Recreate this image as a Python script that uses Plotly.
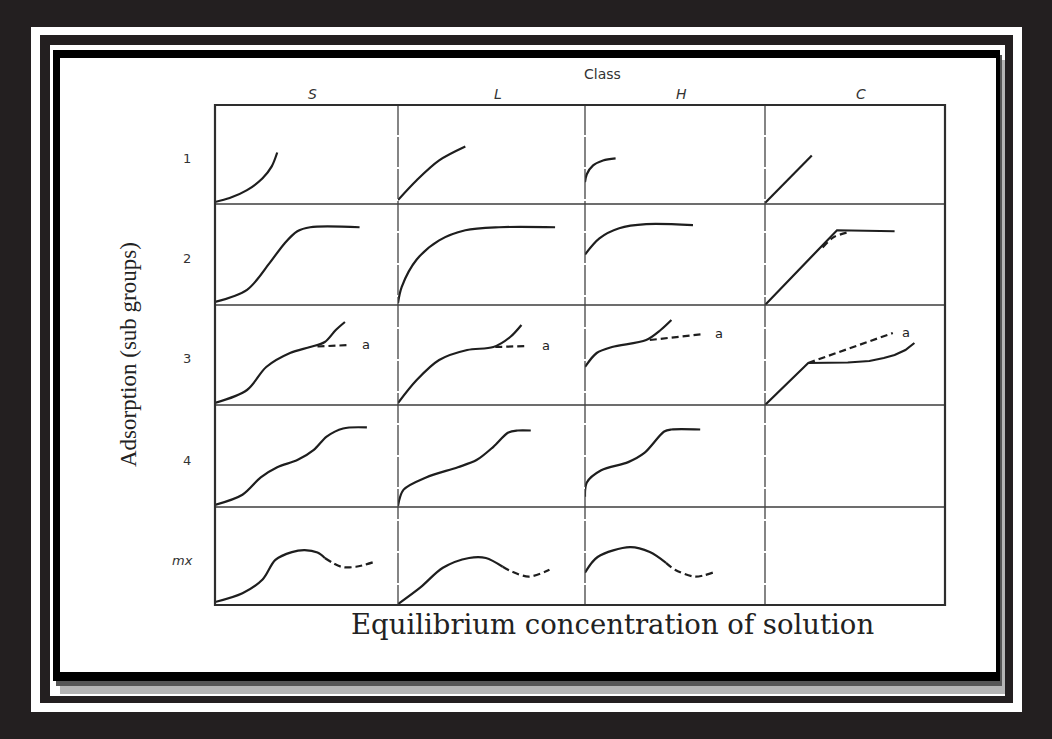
import plotly.graph_objects as go

W, H = 1052, 739

# ---------------- data (cell-local coordinates, 0..1) ----------------
classes = ["S", "L", "H", "C"]
subgroups = ["1", "2", "3", "4", "mx"]

# Row 1
S1_x = [0.0, 0.08, 0.175, 0.26, 0.31, 0.34]
S1_y = [0.02, 0.06, 0.14, 0.26, 0.38, 0.52]
L1_x = [0.0, 0.10, 0.22, 0.36]
L1_y = [0.04, 0.24, 0.44, 0.58]
H1_x = [0.0, 0.01, 0.045, 0.10, 0.17]
H1_y = [0.22, 0.30, 0.39, 0.44, 0.46]
C1_x = [0.0, 0.26]
C1_y = [0.01, 0.49]

# Row 2
S2_x = [0.0, 0.175, 0.30, 0.38, 0.45, 0.52, 0.79]
S2_y = [0.03, 0.15, 0.42, 0.61, 0.73, 0.77, 0.77]
L2_x = [0.0, 0.02, 0.10, 0.22, 0.36, 0.54, 0.84]
L2_y = [0.02, 0.18, 0.45, 0.64, 0.74, 0.77, 0.77]
H2_x = [0.0, 0.08, 0.19, 0.34, 0.60]
H2_y = [0.50, 0.66, 0.76, 0.80, 0.79]
C2_x = [0.0, 0.40, 0.72]
C2_y = [0.0, 0.74, 0.73]
C2a_x = [0.32, 0.38, 0.46]
C2a_y = [0.57, 0.67, 0.72]

# Row 3
S3_x = [0.0, 0.175, 0.28, 0.41, 0.52, 0.60, 0.66, 0.71]
S3_y = [0.02, 0.15, 0.38, 0.52, 0.58, 0.63, 0.75, 0.83]
S3a_x = [0.56, 0.74]
S3a_y = [0.585, 0.60]
L3_x = [0.0, 0.10, 0.22, 0.37, 0.51, 0.60, 0.66]
L3_y = [0.02, 0.25, 0.45, 0.55, 0.58, 0.68, 0.80]
L3a_x = [0.52, 0.69]
L3a_y = [0.58, 0.59]
H3_x = [0.0, 0.065, 0.15, 0.34, 0.42, 0.48]
H3_y = [0.38, 0.52, 0.58, 0.65, 0.75, 0.85]
H3a_x = [0.36, 0.66]
H3a_y = [0.65, 0.71]
C3_x = [0.0, 0.24, 0.46, 0.58, 0.66, 0.72, 0.78, 0.83]
C3_y = [0.0, 0.42, 0.425, 0.44, 0.47, 0.50, 0.55, 0.62]
C3a_x = [0.24, 0.71]
C3a_y = [0.42, 0.72]

# Row 4
S4_x = [0.0, 0.15, 0.25, 0.34, 0.45, 0.54, 0.61, 0.70, 0.83]
S4_y = [0.02, 0.12, 0.29, 0.39, 0.46, 0.56, 0.69, 0.77, 0.78]
L4_x = [0.0, 0.03, 0.15, 0.32, 0.42, 0.51, 0.59, 0.64, 0.71]
L4_y = [0.01, 0.17, 0.29, 0.39, 0.46, 0.59, 0.73, 0.75, 0.75]
H4_x = [0.0, 0.01, 0.09, 0.24, 0.33, 0.44, 0.48, 0.64]
H4_y = [0.10, 0.24, 0.36, 0.44, 0.53, 0.74, 0.76, 0.76]

# Row 5 (mx)
S5_x = [0.0, 0.15, 0.26, 0.33, 0.42, 0.49, 0.56, 0.60]
S5_y = [0.03, 0.12, 0.26, 0.46, 0.54, 0.56, 0.535, 0.48]
S5a_x = [0.60, 0.69, 0.77, 0.87]
S5a_y = [0.48, 0.39, 0.39, 0.44]
L5_x = [0.0, 0.12, 0.24, 0.38, 0.47, 0.56]
L5_y = [0.01, 0.18, 0.38, 0.48, 0.48, 0.39]
L5a_x = [0.56, 0.61, 0.70, 0.81]
L5a_y = [0.39, 0.34, 0.29, 0.36]
H5_x = [0.0, 0.07, 0.25, 0.36, 0.45]
H5_y = [0.33, 0.49, 0.59, 0.54, 0.43]
H5a_x = [0.45, 0.50, 0.61, 0.71]
H5a_y = [0.43, 0.36, 0.29, 0.33]

# "a" label positions (cell-local)
a_labels = [(3, 1, 0.79, 0.60), (3, 2, 0.76, 0.59), (3, 3, 0.71, 0.71), (3, 4, 0.75, 0.72)]

# (row, col, x, y, dashed, shape)
curves = [
    (1, 1, S1_x, S1_y, False, "spline"), (1, 2, L1_x, L1_y, False, "spline"),
    (1, 3, H1_x, H1_y, False, "spline"), (1, 4, C1_x, C1_y, False, "linear"),
    (2, 1, S2_x, S2_y, False, "spline"), (2, 2, L2_x, L2_y, False, "spline"),
    (2, 3, H2_x, H2_y, False, "spline"), (2, 4, C2_x, C2_y, False, "linear"),
    (2, 4, C2a_x, C2a_y, True, "spline"),
    (3, 1, S3_x, S3_y, False, "spline"), (3, 1, S3a_x, S3a_y, True, "linear"),
    (3, 2, L3_x, L3_y, False, "spline"), (3, 2, L3a_x, L3a_y, True, "linear"),
    (3, 3, H3_x, H3_y, False, "spline"), (3, 3, H3a_x, H3a_y, True, "linear"),
    (3, 4, C3_x, C3_y, False, "linear"), (3, 4, C3a_x, C3a_y, True, "linear"),
    (4, 1, S4_x, S4_y, False, "spline"), (4, 2, L4_x, L4_y, False, "spline"),
    (4, 3, H4_x, H4_y, False, "spline"),
    (5, 1, S5_x, S5_y, False, "spline"), (5, 1, S5a_x, S5a_y, True, "spline"),
    (5, 2, L5_x, L5_y, False, "spline"), (5, 2, L5a_x, L5a_y, True, "spline"),
    (5, 3, H5_x, H5_y, False, "spline"), (5, 3, H5a_x, H5a_y, True, "spline"),
]

# ---------------- layout geometry (pixels) ----------------
col_px = [215, 398, 585, 765, 945]
row_px = [105, 204, 305, 405, 507, 605]


def px(x):
    return x / W


def py(y):
    return 1 - y / H


fig = go.Figure()
LINE = "#1e1e1e"

layout_axes = {}
for r in range(1, 6):
    for c in range(1, 5):
        n = (r - 1) * 4 + c
        sfx = "" if n == 1 else str(n)
        layout_axes[f"xaxis{sfx}"] = dict(
            domain=[px(col_px[c - 1]), px(col_px[c])], range=[0, 1],
            visible=False, anchor=f"y{sfx}", fixedrange=True)
        layout_axes[f"yaxis{sfx}"] = dict(
            domain=[py(row_px[r]), py(row_px[r - 1])], range=[0, 1],
            visible=False, anchor=f"x{sfx}", fixedrange=True)

for (r, c, xs, ys, dashed, shp) in curves:
    n = (r - 1) * 4 + c
    sfx = "" if n == 1 else str(n)
    fig.add_trace(go.Scatter(
        x=xs, y=ys, mode="lines", xaxis=f"x{sfx}", yaxis=f"y{sfx}",
        line=dict(color=LINE, width=2.2, shape=shp, smoothing=0.9,
                  dash="7px,4px" if dashed else "solid"),
        hoverinfo="skip", showlegend=False))

annotations = []
for (r, c, ax_, ay_) in a_labels:
    n = (r - 1) * 4 + c
    sfx = "" if n == 1 else str(n)
    annotations.append(dict(x=ax_, y=ay_, xref=f"x{sfx}", yref=f"y{sfx}", text="a",
                            showarrow=False, xanchor="left", yanchor="middle",
                            font=dict(family="DejaVu Sans", size=13, color="#222")))

# ---------------- frame shapes ----------------
shapes = []


def rect(x0, y0, x1, y1, color, layer="below"):
    shapes.append(dict(type="rect", xref="paper", yref="paper",
                       x0=px(x0), x1=px(x1), y0=py(y1), y1=py(y0),
                       fillcolor=color, line=dict(width=0), layer=layer))


rect(31, 27, 1022, 712, "#ffffff")
rect(40, 35, 1013, 703, "#231f20")
rect(50, 45, 1005, 696, "#ffffff")
rect(60, 60, 1005, 694, "#b4b4b4")       # soft shadow
rect(56, 55, 1002, 686, "#555555")
rect(53, 50, 1000, 681, "#000000")
rect(60, 58, 996, 672, "#ffffff")

# grid: horizontal rule lines
for yy in row_px[1:-1]:
    shapes.append(dict(type="line", xref="paper", yref="paper",
                       x0=px(col_px[0]), x1=px(col_px[-1]), y0=py(yy), y1=py(yy),
                       line=dict(color="#3c3c3c", width=1.6), layer="above"))
# vertical rule lines (slightly broken)
for xx in col_px[1:-1]:
    shapes.append(dict(type="line", xref="paper", yref="paper",
                       x0=px(xx), x1=px(xx), y0=py(row_px[0]), y1=py(row_px[-1]),
                       line=dict(color="#444444", width=1.3, dash="30px,2px"), layer="above"))
# outer box
shapes.append(dict(type="rect", xref="paper", yref="paper",
                   x0=px(col_px[0]), x1=px(col_px[-1]), y0=py(row_px[-1]), y1=py(row_px[0]),
                   line=dict(color="#2e2e2e", width=2.2), fillcolor="rgba(0,0,0,0)", layer="above"))

# ---------------- text ----------------
sans = "DejaVu Sans"


def label(x, y, text, size, family=sans, color="#333", angle=0):
    annotations.append(dict(x=px(x), y=py(y), xref="paper", yref="paper", text=text,
                            showarrow=False, xanchor="center", yanchor="middle",
                            textangle=angle, font=dict(family=family, size=size, color=color)))


label(602, 74, "Class", 14)
for i, name in enumerate(classes):
    cx = (col_px[i] + col_px[i + 1]) / 2 + 6
    label(cx, 94, f"<i>{name}</i>", 14)
for j, name in enumerate(subgroups):
    cy = (row_px[j] + row_px[j + 1]) / 2 + 4
    txt = f"<i>{name}</i>" if name == "mx" else name
    label(187 if name != "mx" else 182, cy, txt, 13)

label(128, 355, "Adsorption (sub groups)", 23, family="Liberation Serif", color="#222", angle=-90)
label(612, 624, "Equilibrium concentration of solution", 27.5, family="DejaVu Serif", color="#222")

fig.update_layout(
    width=W, height=H, margin=dict(l=0, r=0, t=0, b=0),
    paper_bgcolor="#231f20", plot_bgcolor="rgba(0,0,0,0)",
    shapes=shapes, annotations=annotations, showlegend=False,
    **layout_axes)

fig.write_html("out.html", config={"displayModeBar": False},
               post_script="document.body.style.margin='0';document.body.style.overflow='hidden';"
                           "document.body.style.background='#231f20';")
